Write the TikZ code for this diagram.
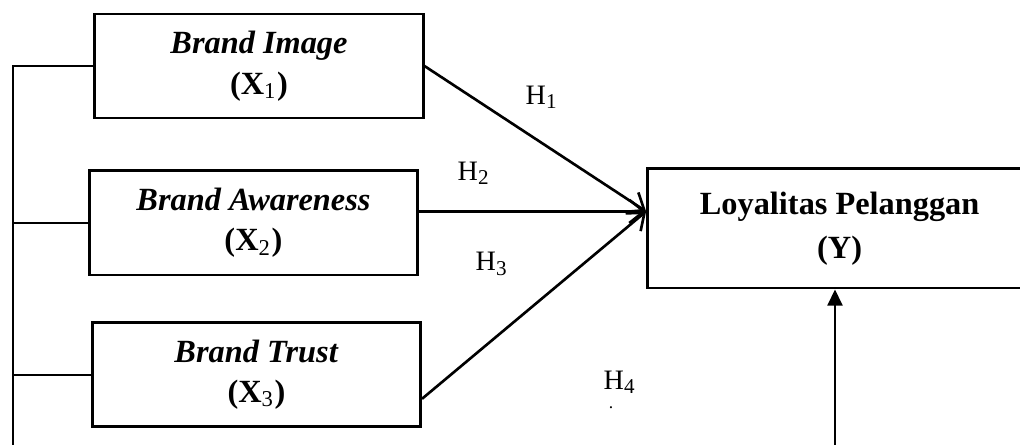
\documentclass[tikz,border=0pt]{standalone}
\usepackage{fontspec}
\setmainfont{Liberation Serif}
\usepackage{tikz}
\usetikzlibrary{arrows.meta, positioning, calc}
\tikzset{
  varbox/.style={rectangle, draw=black, line width=0.8pt, inner sep=0pt,
    minimum width=3.28cm, minimum height=1.04cm, align=center,
    font=\fontsize{9.2}{11.5}\selectfont},
  depbox/.style={rectangle, draw=black, line width=0.8pt, inner sep=0pt,
    minimum width=3.84cm, minimum height=1.19cm, align=center,
    font=\fontsize{9.2}{12.5}\selectfont\bfseries},
  hlabel/.style={font=\fontsize{8}{9}\selectfont, inner sep=0pt},
  arrow/.style={-{Straight Barb[length=4.2pt, width=6.6pt]}, line width=0.75pt},
  filledarrow/.style={-{Triangle[length=4.6pt, width=4.2pt]}, line width=0.75pt},
  line/.style={line width=0.4pt}
}
\begin{document}
\begin{tikzpicture}[x=0.01cm, y=-0.01cm]
  \path[use as bounding box, clip] (0,0) rectangle (1020,444);
  % Independent variables
  \node[varbox] (x1) at (259,66)
    {\textbf{\textit{Brand Image}}\\\textbf{(X\textsubscript{\mdseries 1})}};
  \node[varbox, below=0.5cm of x1, xshift=-0.55mm] (x2)
    {\textbf{\textit{Brand Awareness}}\\\textbf{(X\textsubscript{\mdseries 2})}};
  \node[varbox, below=0.45cm of x2, xshift=0.3mm] (x3)
    {\textbf{\textit{Brand Trust}}\\\textbf{(X\textsubscript{\mdseries 3})}};
  % Dependent variable
  \node[depbox, right=2.27cm of x2, yshift=-0.55mm] (yb)
    {Loyalitas Pelanggan\\(Y)};
  \coordinate (tip) at ($(yb.west)+(0,0.17cm)$);
  % Hypothesis labels
  \node[hlabel] (h1) at (542,97) {H\textsubscript{1}};
  \node[hlabel] (h2) at (474,173) {H\textsubscript{2}};
  \node[hlabel] (h3) at (492,264) {H\textsubscript{3}};
  \node[hlabel] (h4) at (620,382) {H\textsubscript{4}};
  \node[hlabel, font=\fontsize{5}{6}\selectfont] (dot) at (611,408) {.};
  % Arrows to Y
  \draw[arrow] (x1.east) -- (tip);
  \draw[arrow] (x2.east |- tip) -- (tip);
  \draw[arrow] ($(x3.east)+(0,-0.24cm)$) -- (tip);
  % Simultaneous path
  \coordinate (trunk) at (13,450);
  \coordinate (h4foot) at (835,450);
  \draw[line] (x1.west) -| (trunk);
  \draw[line] (x2.west) -- (x2.west -| trunk);
  \draw[line] (x3.west) -- (x3.west -| trunk);
  \draw[filledarrow] (h4foot) -- (yb.south -| h4foot);
\end{tikzpicture}
\end{document}
